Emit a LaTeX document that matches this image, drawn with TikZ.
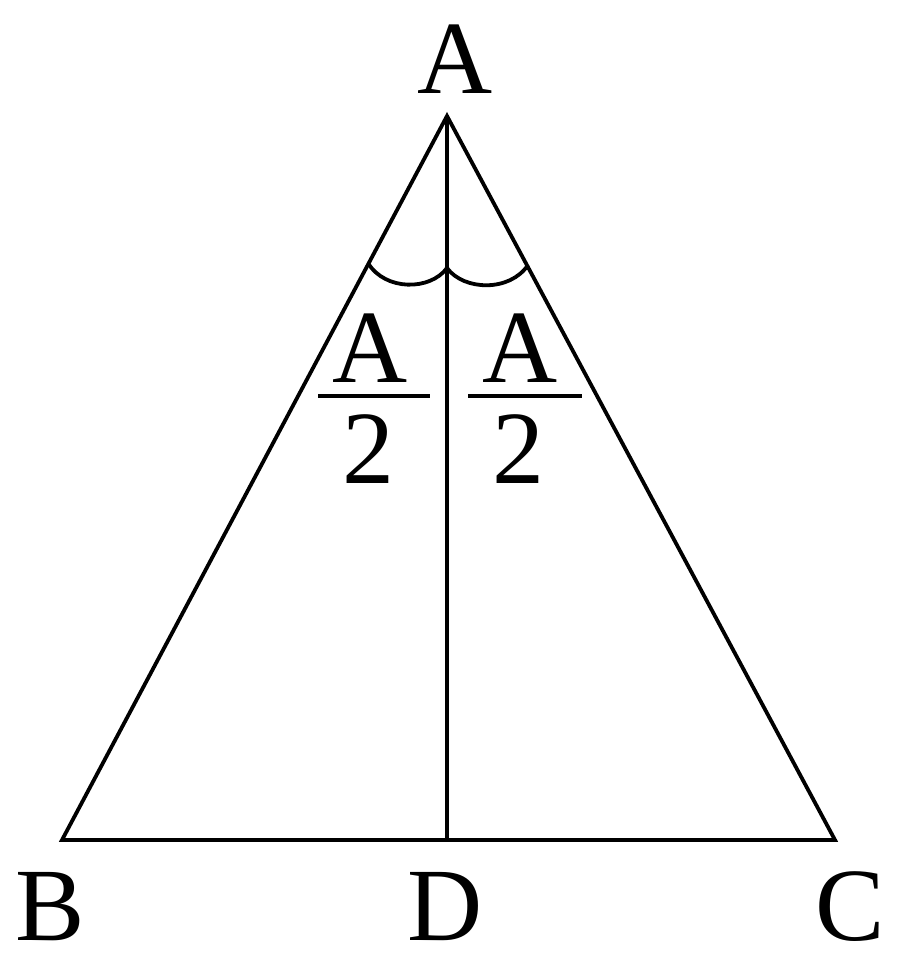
\documentclass[tikz,border=0pt]{standalone}
\usepackage{fontspec}
\setmainfont{Liberation Serif}
\begin{document}
\begin{tikzpicture}[x=1pt,y=-1pt,
  edge/.style={line width=3.8pt,line join=miter},
  lbl/.style={inner sep=0pt,anchor=base,font=\fontsize{104}{110}\selectfont},
  fbar/.style={line width=3.8pt}]
\useasboundingbox (0,0) rectangle (900,969);
\coordinate (A) at (447,116);
\coordinate (B) at (62,840);
\coordinate (C) at (835,840);
\coordinate (D) at (447,840);
\draw[edge] (A) -- (B) -- (C) -- cycle;
\draw[edge] (A) -- (D);
\coordinate (L1) at (368,263);
\coordinate (M1) at (447,268);
\coordinate (R1) at (528,265);
\draw[edge] (L1) .. controls (385,291) and (430,291) .. (M1);
\draw[edge] (M1) .. controls (464,291) and (510,292) .. (R1);
\node[lbl] (tA) at (455,93) {A};
\node[lbl] (tB) at (50,940) {B};
\node[lbl] (tD) at (445,940) {D};
\node[lbl] (tC) at (850,940) {C};
\node[lbl] (fA1) at (370,382) {A};
\node[lbl] (f21) at (368,483) {2};
\node[lbl] (fA2) at (520,382) {A};
\node[lbl] (f22) at (518,483) {2};
\coordinate (b1l) at (318,396); \coordinate (b1r) at (430,396);
\coordinate (b2l) at (468,396); \coordinate (b2r) at (582,396);
\draw[fbar] (b1l) -- (b1r);
\draw[fbar] (b2l) -- (b2r);
\end{tikzpicture}
\end{document}
